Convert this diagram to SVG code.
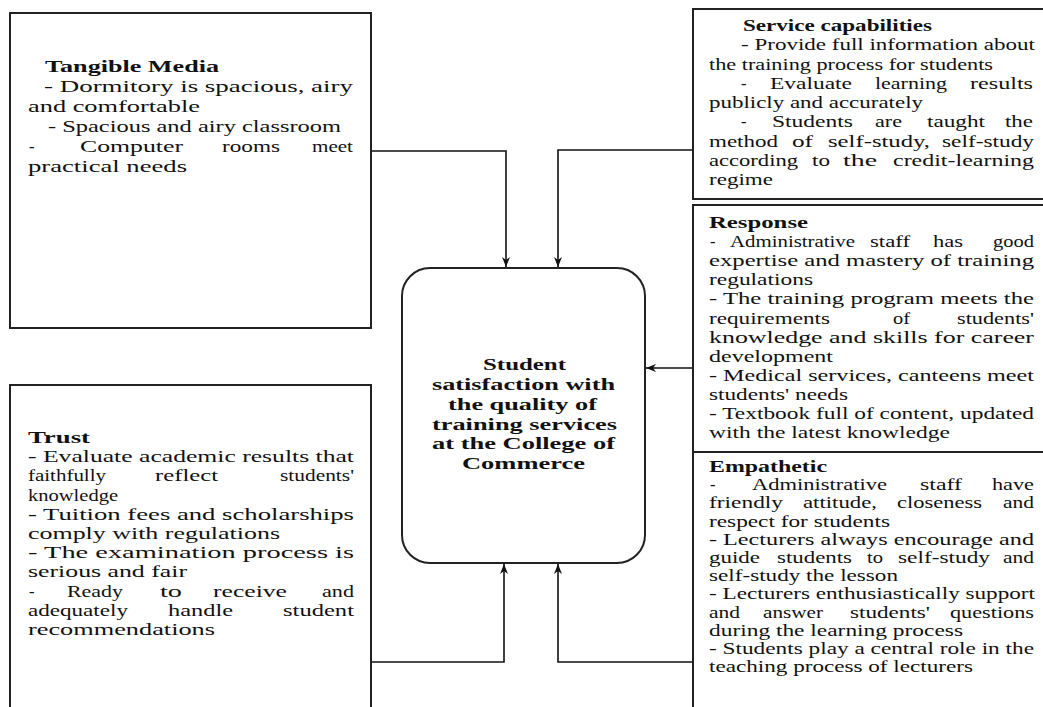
<svg xmlns="http://www.w3.org/2000/svg" width="1043" height="707" viewBox="0 0 1043 707">
<style>
.box{fill:#fff;stroke:#222;stroke-width:2}
.t{font-family:"Liberation Serif","Times New Roman",serif;font-size:16.5px;fill:#111}
.b{font-weight:bold}
.c{fill:none;stroke:#111;stroke-width:1.6}
</style>
<defs>
<marker id="ah" viewBox="0 0 10 10" refX="10" refY="5" markerWidth="10" markerHeight="10" markerUnits="userSpaceOnUse" orient="auto">
<path d="M0,1 L10,5 L0,9 L3,5 z" fill="#111"/>
</marker>
</defs>
<rect width="1043" height="707" fill="#fff"/>

<g id="connectors">
<path class="c" d="M371,151 H506 V267" marker-end="url(#ah)"/>
<path class="c" d="M693,150 H558 V267" marker-end="url(#ah)"/>
<path class="c" d="M693,368 H646" marker-end="url(#ah)"/>
<path class="c" d="M371,662 H504 V564" marker-end="url(#ah)"/>
<path class="c" d="M693,662 H558 V564" marker-end="url(#ah)"/>
</g>

<g id="tangible">
<rect class="box" x="10" y="13" width="361" height="315"/>
<text class="t b" x="45" y="72" textLength="174" lengthAdjust="spacingAndGlyphs">Tangible Media</text>
<text class="t" x="44" y="92" textLength="309" lengthAdjust="spacingAndGlyphs">- Dormitory is spacious, airy</text>
<text class="t" x="28" y="112" textLength="172" lengthAdjust="spacingAndGlyphs">and comfortable</text>
<text class="t" x="48" y="132" textLength="293" lengthAdjust="spacingAndGlyphs">- Spacious and airy classroom</text>
<text class="t" x="29" y="152">-</text>
<text class="t" x="80" y="152" textLength="103" lengthAdjust="spacingAndGlyphs">Computer</text>
<text class="t" x="222" y="152" textLength="58" lengthAdjust="spacingAndGlyphs">rooms</text>
<text class="t" x="312" y="152" textLength="41" lengthAdjust="spacingAndGlyphs">meet</text>
<text class="t" x="28" y="172" textLength="159" lengthAdjust="spacingAndGlyphs">practical needs</text>
</g>

<g id="service">
<rect class="box" x="693" y="9" width="360" height="190"/>
<text class="t b" x="743" y="31" textLength="189" lengthAdjust="spacingAndGlyphs">Service capabilities</text>
<text class="t" x="741" y="50.3" textLength="294" lengthAdjust="spacingAndGlyphs">- Provide full information about</text>
<text class="t" x="709" y="69.5" textLength="284" lengthAdjust="spacingAndGlyphs">the training process for students</text>
<text class="t" x="741" y="88.8">-</text>
<text class="t" x="770" y="88.8" textLength="82" lengthAdjust="spacingAndGlyphs">Evaluate</text>
<text class="t" x="875" y="88.8" textLength="72" lengthAdjust="spacingAndGlyphs">learning</text>
<text class="t" x="970" y="88.8" textLength="63" lengthAdjust="spacingAndGlyphs">results</text>
<text class="t" x="709" y="108" textLength="214" lengthAdjust="spacingAndGlyphs">publicly and accurately</text>
<text class="t" x="741" y="127.3">-</text>
<text class="t" x="772" y="127.3" textLength="81" lengthAdjust="spacingAndGlyphs">Students</text>
<text class="t" x="875" y="127.3" textLength="27" lengthAdjust="spacingAndGlyphs">are</text>
<text class="t" x="927" y="127.3" textLength="58" lengthAdjust="spacingAndGlyphs">taught</text>
<text class="t" x="1005" y="127.3" textLength="28" lengthAdjust="spacingAndGlyphs">the</text>
<text class="t" x="709" y="146.5" textLength="69" lengthAdjust="spacingAndGlyphs">method</text>
<text class="t" x="792" y="146.5" textLength="21" lengthAdjust="spacingAndGlyphs">of</text>
<text class="t" x="828" y="146.5" textLength="102" lengthAdjust="spacingAndGlyphs">self-study,</text>
<text class="t" x="942" y="146.5" textLength="92" lengthAdjust="spacingAndGlyphs">self-study</text>
<text class="t" x="709" y="165.8" textLength="89" lengthAdjust="spacingAndGlyphs">according</text>
<text class="t" x="812" y="165.8" textLength="18" lengthAdjust="spacingAndGlyphs">to</text>
<text class="t" x="843" y="165.8" textLength="34" lengthAdjust="spacingAndGlyphs">the</text>
<text class="t" x="893" y="165.8" textLength="141" lengthAdjust="spacingAndGlyphs">credit-learning</text>
<text class="t" x="709" y="185" textLength="64" lengthAdjust="spacingAndGlyphs">regime</text>
</g>

<g id="response">
<rect class="box" x="693" y="205" width="360" height="247"/>
<text class="t b" x="709" y="228" textLength="99" lengthAdjust="spacingAndGlyphs">Response</text>
<text class="t" x="710" y="247.1">-</text>
<text class="t" x="730" y="247.1" textLength="125" lengthAdjust="spacingAndGlyphs">Administrative</text>
<text class="t" x="870" y="247.1" textLength="40" lengthAdjust="spacingAndGlyphs">staff</text>
<text class="t" x="933" y="247.1" textLength="30" lengthAdjust="spacingAndGlyphs">has</text>
<text class="t" x="993" y="247.1" textLength="41" lengthAdjust="spacingAndGlyphs">good</text>
<text class="t" x="709" y="266.2" textLength="325" lengthAdjust="spacingAndGlyphs">expertise and mastery of training</text>
<text class="t" x="709" y="285.3" textLength="104" lengthAdjust="spacingAndGlyphs">regulations</text>
<text class="t" x="709" y="304.4" textLength="325" lengthAdjust="spacingAndGlyphs">- The training program meets the</text>
<text class="t" x="709" y="323.5" textLength="121" lengthAdjust="spacingAndGlyphs">requirements</text>
<text class="t" x="893" y="323.5" textLength="17" lengthAdjust="spacingAndGlyphs">of</text>
<text class="t" x="957" y="323.5" textLength="77" lengthAdjust="spacingAndGlyphs">students'</text>
<text class="t" x="709" y="342.6" textLength="325" lengthAdjust="spacingAndGlyphs">knowledge and skills for career</text>
<text class="t" x="709" y="361.7" textLength="124" lengthAdjust="spacingAndGlyphs">development</text>
<text class="t" x="709" y="380.8" textLength="325" lengthAdjust="spacingAndGlyphs">- Medical services, canteens meet</text>
<text class="t" x="709" y="399.9" textLength="139" lengthAdjust="spacingAndGlyphs">students' needs</text>
<text class="t" x="709" y="419" textLength="325" lengthAdjust="spacingAndGlyphs">- Textbook full of content, updated</text>
<text class="t" x="709" y="438.1" textLength="241" lengthAdjust="spacingAndGlyphs">with the latest knowledge</text>
</g>

<g id="empathetic">
<rect class="box" x="693" y="452" width="360" height="270"/>
<text class="t b" x="709" y="472" textLength="118" lengthAdjust="spacingAndGlyphs">Empathetic</text>
<text class="t" x="710" y="490.2">-</text>
<text class="t" x="752" y="490.2" textLength="135" lengthAdjust="spacingAndGlyphs">Administrative</text>
<text class="t" x="920" y="490.2" textLength="42" lengthAdjust="spacingAndGlyphs">staff</text>
<text class="t" x="992" y="490.2" textLength="42" lengthAdjust="spacingAndGlyphs">have</text>
<text class="t" x="709" y="508.4" textLength="74" lengthAdjust="spacingAndGlyphs">friendly</text>
<text class="t" x="803" y="508.4" textLength="74" lengthAdjust="spacingAndGlyphs">attitude,</text>
<text class="t" x="897" y="508.4" textLength="85" lengthAdjust="spacingAndGlyphs">closeness</text>
<text class="t" x="1003" y="508.4" textLength="31" lengthAdjust="spacingAndGlyphs">and</text>
<text class="t" x="709" y="526.6" textLength="181" lengthAdjust="spacingAndGlyphs">respect for students</text>
<text class="t" x="709" y="544.8" textLength="325" lengthAdjust="spacingAndGlyphs">- Lecturers always encourage and</text>
<text class="t" x="709" y="563" textLength="51" lengthAdjust="spacingAndGlyphs">guide</text>
<text class="t" x="777" y="563" textLength="75" lengthAdjust="spacingAndGlyphs">students</text>
<text class="t" x="867" y="563" textLength="16" lengthAdjust="spacingAndGlyphs">to</text>
<text class="t" x="898" y="563" textLength="92" lengthAdjust="spacingAndGlyphs">self-study</text>
<text class="t" x="1003" y="563" textLength="31" lengthAdjust="spacingAndGlyphs">and</text>
<text class="t" x="709" y="581.2" textLength="189" lengthAdjust="spacingAndGlyphs">self-study the lesson</text>
<text class="t" x="709" y="599.4" textLength="326" lengthAdjust="spacingAndGlyphs">- Lecturers enthusiastically support</text>
<text class="t" x="709" y="617.6" textLength="31" lengthAdjust="spacingAndGlyphs">and</text>
<text class="t" x="763" y="617.6" textLength="60" lengthAdjust="spacingAndGlyphs">answer</text>
<text class="t" x="850" y="617.6" textLength="80" lengthAdjust="spacingAndGlyphs">students'</text>
<text class="t" x="950" y="617.6" textLength="84" lengthAdjust="spacingAndGlyphs">questions</text>
<text class="t" x="709" y="635.8" textLength="254" lengthAdjust="spacingAndGlyphs">during the learning process</text>
<text class="t" x="709" y="654" textLength="325" lengthAdjust="spacingAndGlyphs">- Students play a central role in the</text>
<text class="t" x="709" y="672.2" textLength="264" lengthAdjust="spacingAndGlyphs">teaching process of lecturers</text>
</g>

<g id="trust">
<rect class="box" x="10" y="385" width="361" height="340"/>
<text class="t b" x="28" y="443" textLength="62" lengthAdjust="spacingAndGlyphs">Trust</text>
<text class="t" x="28" y="462.2" textLength="326" lengthAdjust="spacingAndGlyphs">- Evaluate academic results that</text>
<text class="t" x="28" y="481.4" textLength="78" lengthAdjust="spacingAndGlyphs">faithfully</text>
<text class="t" x="155" y="481.4" textLength="63" lengthAdjust="spacingAndGlyphs">reflect</text>
<text class="t" x="280" y="481.4" textLength="74" lengthAdjust="spacingAndGlyphs">students'</text>
<text class="t" x="28" y="500.6" textLength="90" lengthAdjust="spacingAndGlyphs">knowledge</text>
<text class="t" x="28" y="519.8" textLength="326" lengthAdjust="spacingAndGlyphs">- Tuition fees and scholarships</text>
<text class="t" x="28" y="539" textLength="252" lengthAdjust="spacingAndGlyphs">comply with regulations</text>
<text class="t" x="28" y="558.2" textLength="326" lengthAdjust="spacingAndGlyphs">- The examination process is</text>
<text class="t" x="28" y="577.4" textLength="159" lengthAdjust="spacingAndGlyphs">serious and fair</text>
<text class="t" x="29" y="596.6">-</text>
<text class="t" x="67" y="596.6" textLength="56" lengthAdjust="spacingAndGlyphs">Ready</text>
<text class="t" x="160" y="596.6" textLength="22" lengthAdjust="spacingAndGlyphs">to</text>
<text class="t" x="213" y="596.6" textLength="74" lengthAdjust="spacingAndGlyphs">receive</text>
<text class="t" x="322" y="596.6" textLength="32" lengthAdjust="spacingAndGlyphs">and</text>
<text class="t" x="28" y="615.8" textLength="100" lengthAdjust="spacingAndGlyphs">adequately</text>
<text class="t" x="168" y="615.8" textLength="65" lengthAdjust="spacingAndGlyphs">handle</text>
<text class="t" x="283" y="615.8" textLength="71" lengthAdjust="spacingAndGlyphs">student</text>
<text class="t" x="28" y="635" textLength="187" lengthAdjust="spacingAndGlyphs">recommendations</text>
</g>

<g id="center">
<rect class="box" x="402" y="268" width="243" height="295" rx="28" ry="28"/>
<text class="t b" x="483" y="370" textLength="83" lengthAdjust="spacingAndGlyphs">Student</text>
<text class="t b" x="432" y="390" textLength="183" lengthAdjust="spacingAndGlyphs">satisfaction with</text>
<text class="t b" x="448" y="410" textLength="149" lengthAdjust="spacingAndGlyphs">the quality of</text>
<text class="t b" x="432" y="430" textLength="185" lengthAdjust="spacingAndGlyphs">training services</text>
<text class="t b" x="432" y="449" textLength="183" lengthAdjust="spacingAndGlyphs">at the College of</text>
<text class="t b" x="462" y="469" textLength="123" lengthAdjust="spacingAndGlyphs">Commerce</text>
</g>
</svg>
